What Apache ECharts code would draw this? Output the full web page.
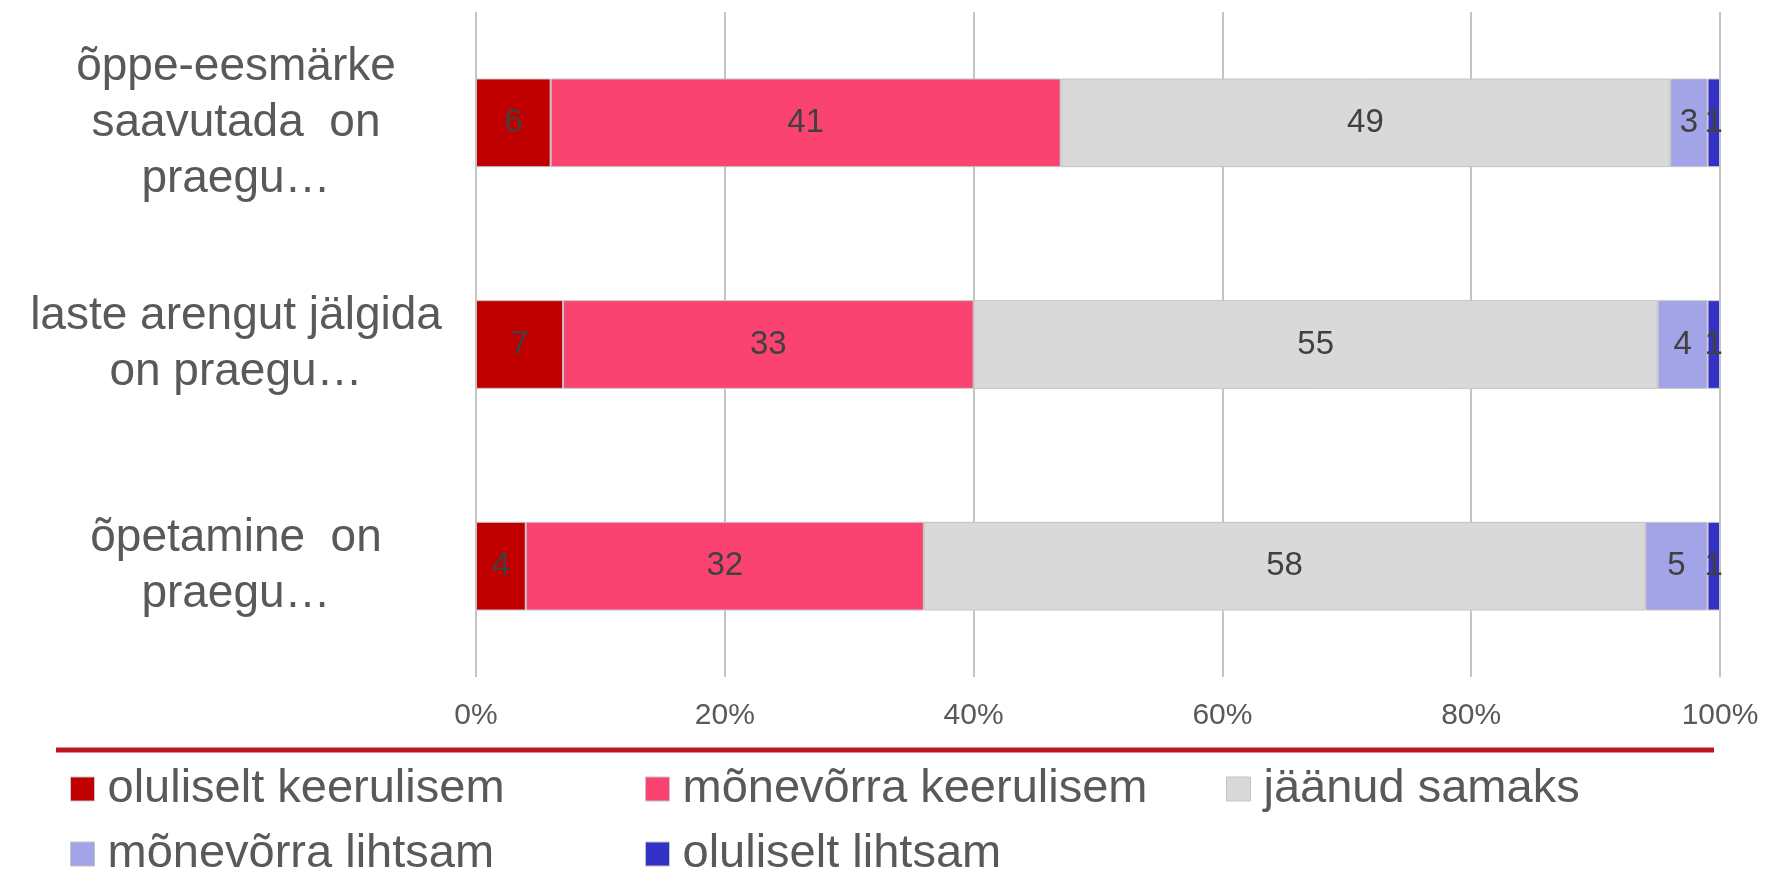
<!DOCTYPE html>
<html>
<head>
<meta charset="utf-8">
<script src="https://cdn.jsdelivr.net/npm/echarts@6/dist/echarts.min.js"></script>
<style>
  html, body { margin: 0; padding: 0; background: #fff; }
  #chart { width: 1769px; height: 876px; }
</style>
</head>
<body>
<div id="chart"></div>
<script>
// 类别（从上到下）
var categories = [
    "õppe-eesmärke\nsaavutada  on\npraegu…",
    "laste arengut jälgida\non praegu…",
    "õpetamine  on\npraegu…"
];
// 系列名称
var seriesNames = [
    "oluliselt keerulisem",
    "mõnevõrra keerulisem",
    "jäänud samaks",
    "mõnevõrra lihtsam",
    "oluliselt lihtsam"
];
// 各系列数值 (%)
var valsOluliseltKeerulisem = [6, 7, 4];
var valsMonevorraKeerulisem = [41, 33, 32];
var valsJaanudSamaks = [49, 55, 58];
var valsMonevorraLihtsam = [3, 4, 5];
var valsOluliseltLihtsam = [1, 1, 1];
// x 轴刻度
var xTicks = [0, 20, 40, 60, 80, 100];

var colors = ['#c00000', '#fb4372', '#d9d9d9', '#a3a3e8', '#3232c8'];
var font = '"Liberation Sans", Arial, sans-serif';
var txt = '#595959';

var allVals = [valsOluliseltKeerulisem, valsMonevorraKeerulisem, valsJaanudSamaks,
    valsMonevorraLihtsam, valsOluliseltLihtsam];

var series = [];
for (var i = 0; i < seriesNames.length; i++) {
    series.push({
        name: seriesNames[i],
        type: 'bar',
        stack: 'total',
        barWidth: '40%',
        itemStyle: {
            color: colors[i],
            borderColor: '#c4c4c4',
            borderWidth: 1
        },
        label: {
            show: true,
            position: 'inside',
            color: '#404040',
            fontFamily: font,
            fontSize: 33
        },
        emphasis: { disabled: true },
        data: allVals[i]
    });
}

// 图例位置（每项单独放）
var legendPos = [
    [70, 764], [645, 764], [1226, 764],
    [70, 829], [645, 829]
];
var legends = [];
for (var j = 0; j < seriesNames.length; j++) {
    legends.push({
        data: [seriesNames[j]],
        left: legendPos[j][0],
        top: legendPos[j][1],
        padding: 0,
        icon: 'rect',
        itemWidth: 24,
        itemHeight: 24,
        selectedMode: false,
        itemStyle: { borderColor: '#c4c4c4', borderWidth: 1 },
        textStyle: {
            color: txt,
            fontFamily: font,
            fontSize: 47,
            lineHeight: 50,
            padding: [0, 0, 0, 8]
        }
    });
}

var option = {
    animation: false,
    backgroundColor: '#fff',
    color: colors,
    legend: legends,
    grid: {
        left: 476,
        right: 49,
        top: 12,
        bottom: 199,
        containLabel: false
    },
    xAxis: {
        type: 'value',
        min: xTicks[0],
        max: xTicks[xTicks.length - 1],
        interval: 20,
        axisLine: { show: false },
        axisTick: { show: false },
        splitLine: { show: true, lineStyle: { color: '#c4c4c4', width: 2 } },
        axisLabel: {
            formatter: '{value}%',
            color: txt,
            fontFamily: font,
            fontSize: 30,
            margin: 24
        }
    },
    yAxis: {
        type: 'category',
        inverse: true,
        data: categories,
        axisLine: { show: false },
        axisTick: { show: false },
        axisLabel: {
            color: txt,
            fontFamily: font,
            fontSize: 46,
            lineHeight: 56,
            align: 'center',
            margin: 240
        }
    },
    graphic: [{
        type: 'line',
        shape: { x1: 56, y1: 750, x2: 1714, y2: 750 },
        style: { stroke: '#be1622', lineWidth: 5 }
    }],
    series: series
};

var chart = echarts.init(document.getElementById('chart'));
chart.setOption(option);
</script>
</body>
</html>
